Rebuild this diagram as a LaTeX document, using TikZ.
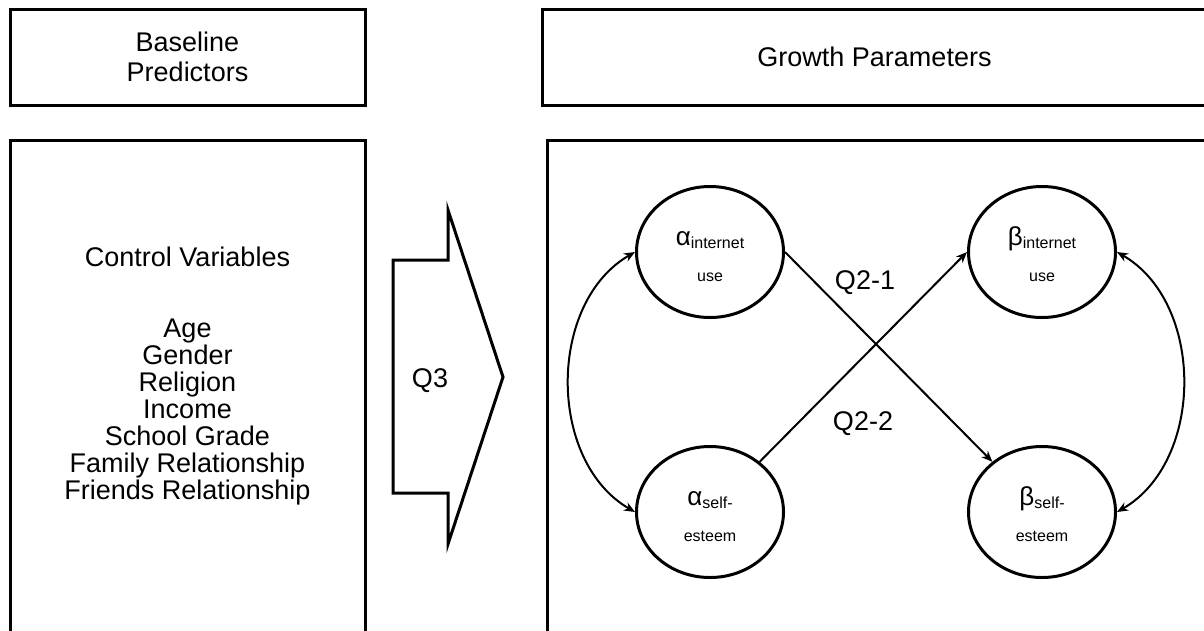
\documentclass[tikz,border=0pt]{standalone}
\usepackage{fontspec}
\setmainfont{Liberation Sans}
\usetikzlibrary{arrows.meta,shapes.geometric}

\tikzset{
  panel/.style={draw, line width=3pt, inner sep=0pt, align=center},
  factor/.style={draw, ellipse, line width=3pt, minimum width=147pt, minimum height=131pt,
    inner sep=0pt, align=center, font=\fontsize{16}{36}\selectfont},
  effect/.style={line width=2pt, -{Stealth[length=11pt,width=9pt]}},
  covar/.style={line width=2pt, {Stealth[length=11pt,width=9pt]}-{Stealth[length=11pt,width=9pt]}},
  bigtext/.style={font=\fontsize{27}{32.5}\selectfont}
}
% greek letter, subscript, second line
\newcommand{\gp}[3]{\rule{0pt}{23pt}{\fontsize{26}{26}\selectfont #1}\raisebox{-3pt}{#2}\\#3}

\begin{document}
\begin{tikzpicture}[x=1pt,y=-1pt]
  \useasboundingbox (0,0) rectangle (1204,630);
  \clip (0,0) rectangle (1204,630);
  % header boxes
  \node[panel,minimum width=355pt,minimum height=96pt,font=\fontsize{27}{30}\selectfont] (pred) at (187.5,57) {Baseline\\Predictors};
  \node[panel,bigtext,minimum width=665pt,minimum height=96pt] (growth) at (874.5,57) {Growth Parameters};
  % lower panels
  \node[panel,minimum width=355pt,minimum height=500pt] (ctrlbox) at (187.5,390) {};
  \node[align=center,font=\fontsize{27}{27}\selectfont] (ctrl) at (187.5,376)
    {Control Variables\\[44pt]Age\\Gender\\Religion\\Income\\School Grade\\Family Relationship\\Friends Relationship};
  \node[panel,minimum width=663pt,minimum height=500pt] (model) at (878.5,390) {};
  % block arrow
  \draw[line width=3pt] (393,260) -- (448,260) -- (448,210) -- (503,377) -- (448,544) -- (448,493) -- (393,493) -- cycle;
  \node[bigtext,anchor=base] (q3) at (430,387) {Q3};
  % growth factors
  \node[factor] (aint) at (710,252) {\gp{α}{internet}{use}};
  \node[factor] (aself) at (710,512) {\gp{α}{self-}{esteem}};
  \node[factor] (bint) at (1042,252) {\gp{β}{internet}{use}};
  \node[factor] (bself) at (1042,512) {\gp{β}{self-}{esteem}};
  \draw[effect] (aint.east) -- (bself);
  \draw[effect] (aself) -- (bint.west);
  \draw[covar] (aint.west) to[bend right=60] (aself.west);
  \draw[covar] (bint.east) to[bend left=60] (bself.east);
  \node[bigtext,anchor=base] (q21) at (865,289) {Q2-1};
  \node[bigtext,anchor=base] (q22) at (863,430) {Q2-2};
\end{tikzpicture}
\end{document}
